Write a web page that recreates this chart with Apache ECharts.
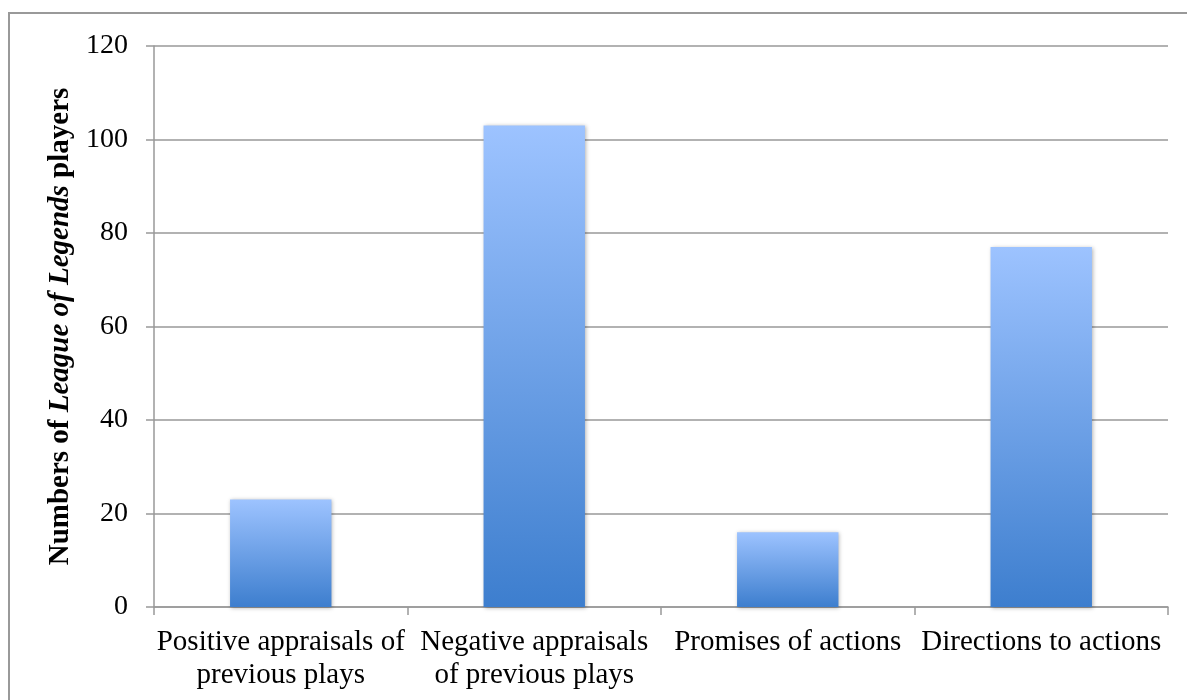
<!DOCTYPE html>
<html>
<head>
<meta charset="utf-8">
<script src="https://cdn.jsdelivr.net/npm/echarts@6/dist/echarts.min.js"></script>
<style>
    html, body { margin: 0; padding: 0; background: #fff; }
    #frame {
        position: absolute;
        left: 8px;
        top: 12px;
        width: 1200px;
        height: 720px;
        border-left: 2.5px solid #999;
        border-top: 2.5px solid #999;
    }
    #chart { position: absolute; left: 0; top: 0; width: 1187px; height: 700px; }
</style>
</head>
<body>
<div id="frame"></div>
<div id="chart"></div>
<script>
const categories = [
    'Positive appraisals of\nprevious plays',
    'Negative appraisals\nof previous plays',
    'Promises of actions',
    'Directions to actions'
]
const players = [23, 103, 16, 77]
const yMin = 0
const yMax = 120
const yStep = 20

const chart = echarts.init(document.getElementById('chart'))

const option = {
    animation: false,
    grid: {
        left: 154,
        right: 19,
        top: 46,
        bottom: 93
    },
    xAxis: {
        type: 'category',
        data: categories,
        axisLine: {
            show: true,
            lineStyle: { color: '#999', width: 1.5 }
        },
        axisTick: {
            show: true,
            alignWithLabel: false,
            length: 8,
            lineStyle: { color: '#999', width: 1.5 }
        },
        axisLabel: {
            interval: 0,
            margin: 19,
            color: '#000',
            fontFamily: 'Liberation Serif',
            fontSize: 29,
            lineHeight: 33
        }
    },
    yAxis: {
        type: 'value',
        min: yMin,
        max: yMax,
        interval: yStep,
        name: '{b|Numbers of }{bi|League of Legends}{b| players}',
        nameLocation: 'middle',
        nameGap: 78,
        nameTextStyle: {
            rich: {
                b: {
                    fontFamily: 'Liberation Serif',
                    fontWeight: 'bold',
                    fontSize: 29,
                    color: '#000'
                },
                bi: {
                    fontFamily: 'Liberation Serif',
                    fontWeight: 'bold',
                    fontStyle: 'italic',
                    fontSize: 29,
                    color: '#000'
                }
            }
        },
        axisLine: {
            show: true,
            lineStyle: { color: '#999', width: 1.5 }
        },
        axisTick: {
            show: true,
            length: 8,
            lineStyle: { color: '#999', width: 1.5 }
        },
        axisLabel: {
            margin: 26,
            color: '#000',
            fontFamily: 'Liberation Serif',
            fontSize: 28
        },
        splitLine: {
            show: true,
            lineStyle: { color: '#999', width: 1.5 }
        }
    },
    series: [{
        type: 'bar',
        data: players,
        barWidth: '40%',
        itemStyle: {
            color: new echarts.graphic.LinearGradient(0, 0, 0, 1, [
                { offset: 0, color: '#9DC3FF' },
                { offset: 1, color: '#3D7ECE' }
            ]),
            shadowColor: 'rgba(0, 0, 0, 0.3)',
            shadowBlur: 4,
            shadowOffsetX: 1,
            shadowOffsetY: 1
        }
    }]
}

chart.setOption(option)
</script>
</body>
</html>
